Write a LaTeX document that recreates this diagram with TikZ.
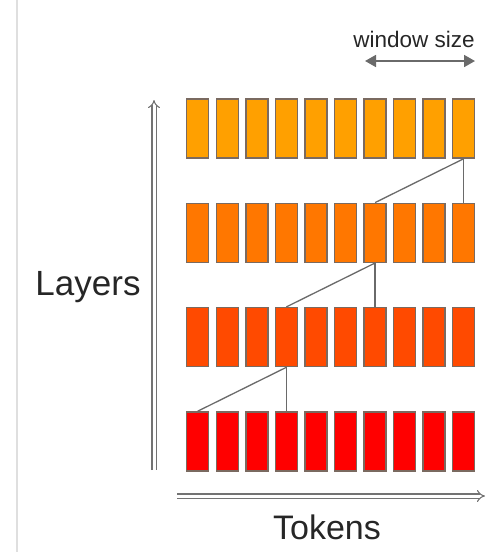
\documentclass[tikz,border=0pt]{standalone}
\usepackage{fontspec}
\setmainfont{Liberation Sans}
\usepackage{xcolor}
\usetikzlibrary{arrows.meta}

\definecolor{layerA}{HTML}{FFA000}
\definecolor{layerB}{HTML}{FF7700}
\definecolor{layerC}{HTML}{FF4A00}
\definecolor{layerD}{HTML}{FF0000}
\definecolor{boxline}{HTML}{7A6A60}
\definecolor{linkgray}{HTML}{6A6A6A}

\begin{document}
\begin{tikzpicture}[x = 1pt, y = -1pt,
	token/.style = {draw = boxline, line width = 1.4pt, minimum width = 22pt, minimum height = 59pt, inner sep = 0pt},
	link/.style = {linkgray, line width = 1.3pt},
	axis/.style = {draw = gray!90!black, double = white, double distance = 3pt, line width = 1.1pt, -{Implies}}]
	\useasboundingbox (0,0) rectangle (488,552);
	\draw[gray!25, line width = 2pt] (17,0) -- (17,552);

	% one row of tokens per layer, top to bottom
	\foreach \r/\col in {0/layerA, 1/layerB, 2/layerC, 3/layerD}
		\foreach \c in {0,...,9}
			\node[token, fill = \col] (t\r\c) at (197.7 + 29.56*\c, 128.5 + 104.3*\r) {};

	% sliding window: each token sees the one below and three back
	\draw[link] (t09.south) -- (t16.north);
	\draw[link] (t09.south) -- (t19.north);
	\draw[link] (t16.south) -- (t23.north);
	\draw[link] (t16.south) -- (t26.north);
	\draw[link] (t23.south) -- (t30.north);
	\draw[link] (t23.south) -- (t33.north);

	% axes
	\coordinate (lbot) at (154,470);
	\coordinate (ltop) at (154,100);
	\coordinate (tleft) at (177,496);
	\coordinate (tright) at (485,496);
	\draw[axis] (lbot) -- (ltop);
	\draw[axis] (tleft) -- (tright);
	\node[font = \fontsize{35}{40}\selectfont, text = black!85] (layers) at (88,287) {Layers};
	\node[font = \fontsize{34}{40}\selectfont, text = black!85] (tokens) at (327,527) {Tokens};

	% window size
	\coordinate (wl) at (365,61);
	\coordinate (wr) at (475,61);
	\draw[linkgray, line width = 1.8pt, {Triangle[length=11pt, width=12pt]}-{Triangle[length=11pt, width=12pt]}] (wl) -- (wr);
	\node[font = \fontsize{22.5}{26}\selectfont, text = black!85] (window) at (414,39) {window size};
\end{tikzpicture}
\end{document}
